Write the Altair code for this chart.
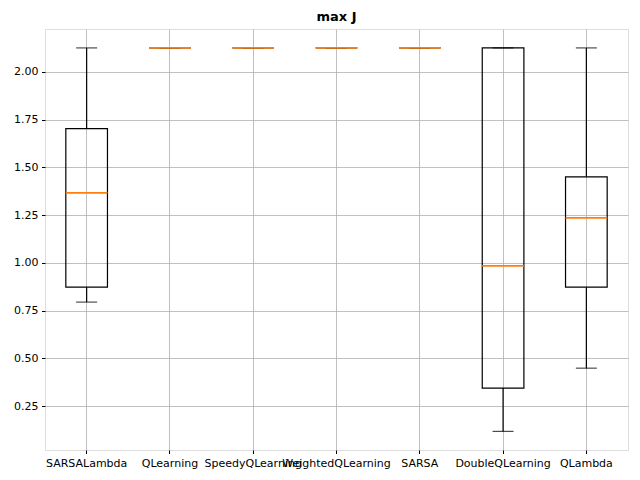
import altair as alt
import pandas as pd

algorithms = ["SARSALambda", "QLearning", "SpeedyQLearning", "WeightedQLearning",
              "SARSA", "DoubleQLearning", "QLambda"]
whisker_low = [0.795, 2.126, 2.126, 2.126, 2.126, 0.118, 0.449]
q1 = [0.873, 2.126, 2.126, 2.126, 2.126, 0.345, 0.873]
median = [1.367, 2.126, 2.126, 2.126, 2.126, 0.985, 1.236]
q3 = [1.703, 2.126, 2.126, 2.126, 2.126, 2.126, 1.451]
whisker_high = [2.126, 2.126, 2.126, 2.126, 2.126, 2.126, 2.126]
y_ticks = [0.25, 0.50, 0.75, 1.00, 1.25, 1.50, 1.75, 2.00]

df = pd.DataFrame({
    "algorithm": algorithms,
    "lo": whisker_low,
    "q1": q1,
    "med": median,
    "q3": q3,
    "hi": whisker_high,
})

FONT = "DejaVu Sans"

x = alt.X("algorithm:N", sort=algorithms,
          scale=alt.Scale(paddingInner=0, paddingOuter=0),
          axis=alt.Axis(title=None, labelAngle=0, bandPosition=0.5, grid=True,
                        gridColor="#b0b0b0", gridWidth=0.8, domain=False,
                        tickColor="black", tickSize=3.5, labelPadding=3.5,
                        labelOverlap=False, labelBound=False, labelFlush=False,
                        labelColor="black", labelFontSize=11, labelFont=FONT))

yscale = alt.Scale(domain=[0.0205, 2.225], nice=False, zero=False)
yaxis = alt.Axis(title=None, values=y_ticks, format=".2f", grid=True,
                 gridColor="#b0b0b0", gridWidth=0.8, domain=False,
                 tickColor="black", tickSize=3.5, labelPadding=3.5,
                 labelColor="black", labelFontSize=11, labelFont=FONT)

base = alt.Chart(df)
SW = 1.2

whisk_lo = base.mark_rule(color="black", strokeWidth=SW).encode(
    x=x, y=alt.Y("lo:Q", scale=yscale, axis=yaxis), y2="q1:Q")
whisk_hi = base.mark_rule(color="black", strokeWidth=SW).encode(
    x=x, y=alt.Y("q3:Q", scale=yscale), y2="hi:Q")
box = base.mark_bar(filled=False, stroke="black", strokeWidth=SW,
                    width=alt.RelativeBandSize(0.5)).encode(
    x=x, y=alt.Y("q1:Q", scale=yscale), y2="q3:Q")
cap_lo = base.mark_tick(color="black", size=21, thickness=SW).encode(
    x=x, y=alt.Y("lo:Q", scale=yscale))
cap_hi = base.mark_tick(color="black", size=21, thickness=SW).encode(
    x=x, y=alt.Y("hi:Q", scale=yscale))
med = base.mark_tick(color="#ff7f0e", size=41.6, thickness=1.8, opacity=1).encode(
    x=x, y=alt.Y("med:Q", scale=yscale))

chart = alt.layer(whisk_lo, whisk_hi, box, cap_lo, cap_hi, med).properties(
    width=583, height=421,
    title=alt.TitleParams("max J", fontSize=13, fontWeight="bold", font=FONT,
                          color="black", offset=5),
    autosize=alt.AutoSizeParams(type="none"),
    padding={"left": 45, "top": 29, "right": 12, "bottom": 30},
).configure_view(stroke="black", strokeWidth=1).configure(background="white")

chart.save("out.html", embed_options={"renderer": "svg", "actions": False})
